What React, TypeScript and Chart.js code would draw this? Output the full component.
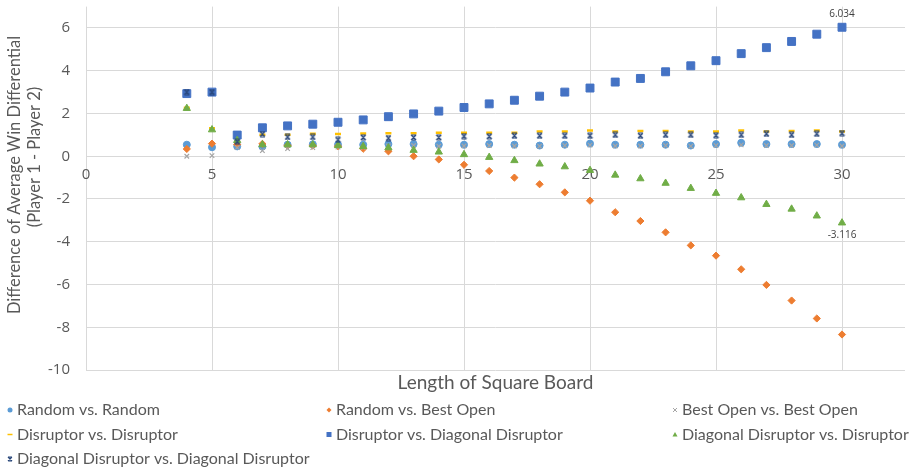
import React, { useEffect, useRef } from "react";
import { Chart, registerables } from "chart.js";

Chart.register(...registerables);

// ---------- data ----------
const boardSizes = [4, 5, 6, 7, 8, 9, 10, 11, 12, 13, 14, 15, 16, 17, 18, 19, 20, 21, 22, 23, 24, 25, 26, 27, 28, 29, 30];

const randomVsRandom = [0.54, 0.42, 0.46, 0.45, 0.54, 0.56, 0.54, 0.54, 0.57, 0.57, 0.54, 0.54, 0.57, 0.54, 0.5, 0.54, 0.59, 0.54, 0.54, 0.54, 0.5, 0.57, 0.63, 0.57, 0.57, 0.57, 0.54];
const randomVsBestOpen = [0.34, 0.59, 0.55, 0.58, 0.5, 0.5, 0.47, 0.35, 0.23, 0.0, -0.15, -0.4, -0.69, -1.0, -1.31, -1.69, -2.08, -2.62, -3.03, -3.56, -4.17, -4.65, -5.29, -6.02, -6.75, -7.59, -8.34];
const bestOpenVsBestOpen = [0.0, 0.03, 0.4, 0.26, 0.36, 0.4, 0.43, 0.4, 0.48, 0.5, 0.47, 0.48, 0.5, 0.48, 0.47, 0.5, 0.52, 0.48, 0.48, 0.5, 0.47, 0.5, 0.53, 0.5, 0.5, 0.52, 0.48];
const disruptorVsDisruptor = [2.27, 1.31, 0.98, 1.0, 1.0, 1.05, 1.04, 1.06, 1.08, 1.08, 1.1, 1.1, 1.1, 1.1, 1.16, 1.16, 1.2, 1.16, 1.18, 1.18, 1.16, 1.16, 1.2, 1.16, 1.18, 1.2, 1.16];
const disruptorVsDiagonalDisruptor = [2.93, 3.0, 0.99, 1.33, 1.42, 1.5, 1.59, 1.7, 1.85, 1.98, 2.11, 2.28, 2.45, 2.62, 2.81, 3.0, 3.19, 3.47, 3.64, 3.95, 4.23, 4.47, 4.8, 5.08, 5.37, 5.71, 6.034];
const diagonalDisruptorVsDisruptor = [2.24, 1.24, 0.74, 0.54, 0.54, 0.54, 0.5, 0.46, 0.4, 0.28, 0.2, 0.08, -0.05, -0.2, -0.36, -0.49, -0.66, -0.88, -1.05, -1.26, -1.5, -1.73, -1.94, -2.25, -2.47, -2.79, -3.116];
const diagonalDisruptorVsDiagonalDisruptor = [3.0, 3.0, 0.68, 1.04, 0.9, 0.9, 0.77, 0.88, 0.85, 0.88, 0.88, 0.94, 0.93, 0.96, 0.96, 0.96, 0.96, 1.0, 0.96, 1.0, 1.0, 0.98, 1.0, 1.05, 1.0, 1.05, 1.08];

const seriesNames = [
  "Random vs. Random",
  "Random vs. Best Open",
  "Best Open vs. Best Open",
  "Disruptor vs. Disruptor",
  "Disruptor vs. Diagonal Disruptor",
  "Diagonal Disruptor vs. Disruptor",
  "Diagonal Disruptor vs. Diagonal Disruptor",
];
const seriesValues = [
  randomVsRandom,
  randomVsBestOpen,
  bestOpenVsBestOpen,
  disruptorVsDisruptor,
  disruptorVsDiagonalDisruptor,
  diagonalDisruptorVsDisruptor,
  diagonalDisruptorVsDiagonalDisruptor,
];
const seriesColors = ["#5B9BD5", "#ED7D31", "#A5A5A5", "#FFC000", "#4472C4", "#70AD47", "#264478"];
const seriesMarkers = ["circle", "rectRot", "crossRot", "line", "rect", "triangle", "star"];

// series index whose last point gets a value label, and where
const labeledSeries = [
  { series: 4, place: "above" },
  { series: 5, place: "below" },
];

const xTitle = "Length of Square Board";
const yTitleLines = ["Difference of Average Win Differential", "(Player 1 - Player 2)"];
const xMin = 0;
const xMax = 32.5;
const xStep = 5;
const yMin = -10;
const yMax = 7;
const yStep = 2;

// ---------- styling ----------
const TEXT = "#595959";
const GRID = "#D9D9D9";
const TICK_FONT = "'Open Sans', sans-serif";
const LABEL_FONT = "Lato, sans-serif";

function makeStarCanvas(color: string, size: number) {
  const c = document.createElement("canvas");
  c.width = size;
  c.height = size;
  const ctx = c.getContext("2d")!;
  ctx.strokeStyle = color;
  ctx.lineWidth = 1.2;
  const p = 1;
  const s = size - 1;
  ctx.beginPath();
  ctx.moveTo(p, p);
  ctx.lineTo(s, s);
  ctx.moveTo(s, p);
  ctx.lineTo(p, s);
  ctx.moveTo(p, p);
  ctx.lineTo(s, p);
  ctx.moveTo(p, s);
  ctx.lineTo(s, s);
  ctx.stroke();
  return c;
}

function drawMarker(ctx: CanvasRenderingContext2D, style: string, x: number, y: number, r: number, color: string) {
  ctx.save();
  ctx.fillStyle = color;
  ctx.strokeStyle = color;
  ctx.lineWidth = 1;
  ctx.beginPath();
  if (style === "circle") {
    ctx.arc(x, y, r, 0, Math.PI * 2);
    ctx.fill();
  } else if (style === "rectRot") {
    ctx.moveTo(x, y - r);
    ctx.lineTo(x + r, y);
    ctx.lineTo(x, y + r);
    ctx.lineTo(x - r, y);
    ctx.closePath();
    ctx.fill();
  } else if (style === "crossRot") {
    const d = r * 0.8;
    ctx.moveTo(x - d, y - d);
    ctx.lineTo(x + d, y + d);
    ctx.moveTo(x + d, y - d);
    ctx.lineTo(x - d, y + d);
    ctx.stroke();
  } else if (style === "line") {
    ctx.lineWidth = 1.5;
    ctx.moveTo(x - r, y);
    ctx.lineTo(x + r, y);
    ctx.stroke();
  } else if (style === "rect") {
    ctx.fillRect(x - r, y - r, 2 * r, 2 * r);
  } else if (style === "triangle") {
    ctx.moveTo(x, y - r);
    ctx.lineTo(x + r, y + r * 0.8);
    ctx.lineTo(x - r, y + r * 0.8);
    ctx.closePath();
    ctx.fill();
  } else if (style === "star") {
    const d = r * 0.8;
    ctx.lineWidth = 1.2;
    ctx.moveTo(x - d, y - d);
    ctx.lineTo(x + d, y + d);
    ctx.moveTo(x + d, y - d);
    ctx.lineTo(x - d, y + d);
    ctx.moveTo(x - d, y - d);
    ctx.lineTo(x + d, y - d);
    ctx.moveTo(x - d, y + d);
    ctx.lineTo(x + d, y + d);
    ctx.stroke();
  }
  ctx.restore();
}

const extrasPlugin = {
  id: "extras",
  afterDraw(chart: any) {
    const ctx: CanvasRenderingContext2D = chart.ctx;
    const area = chart.chartArea;
    ctx.save();

    // value labels
    ctx.font = `10px ${TICK_FONT}`;
    ctx.fillStyle = "#404040";
    ctx.textAlign = "center";
    ctx.textBaseline = "middle";
    labeledSeries.forEach(({ series, place }) => {
      const meta = chart.getDatasetMeta(series);
      const idx = seriesValues[series].length - 1;
      const pt = meta.data[idx];
      const v = seriesValues[series][idx];
      const dy = place === "above" ? -13 : 12;
      ctx.fillText(v.toFixed(3), pt.x, pt.y + dy);
    });

    // x axis title
    ctx.font = `19px ${LABEL_FONT}`;
    ctx.fillStyle = TEXT;
    ctx.textAlign = "center";
    ctx.textBaseline = "middle";
    ctx.fillText(xTitle, (area.left + area.right) / 2, 383);

    // y axis title
    ctx.font = `16.5px ${LABEL_FONT}`;
    ctx.save();
    ctx.translate(15, 175);
    ctx.rotate(-Math.PI / 2);
    ctx.fillText(yTitleLines[0], 0, 0);
    ctx.restore();
    ctx.save();
    ctx.translate(35, 157);
    ctx.rotate(-Math.PI / 2);
    ctx.fillText(yTitleLines[1], 0, 0);
    ctx.restore();

    // legend
    const colX = [10, 329, 675];
    const rowY = [410, 434.5, 459];
    ctx.font = `16px ${LABEL_FONT}`;
    ctx.textAlign = "left";
    ctx.textBaseline = "middle";
    seriesNames.forEach((name, i) => {
      const cx = colX[i % 3];
      const cy = rowY[Math.floor(i / 3)];
      drawMarker(ctx, seriesMarkers[i], cx, cy, 2.5, seriesColors[i]);
      ctx.fillStyle = TEXT;
      ctx.fillText(name, cx + 7, cy);
    });
    ctx.restore();
  },
};

export default function App() {
  const canvasRef = useRef<HTMLCanvasElement | null>(null);

  useEffect(() => {
    const canvas = canvasRef.current;
    if (!canvas) return;
    const star = makeStarCanvas(seriesColors[6], 7);

    const radii = [3.5, 3.6, 3.2, 3, 5.6, 4.2, 3.5];
    const datasets = seriesNames.map((name, i) => ({
      label: name,
      data: boardSizes.map((x, j) => ({ x, y: seriesValues[i][j] })),
      showLine: false,
      pointStyle: i === 6 ? star : seriesMarkers[i],
      pointRadius: radii[i],
      pointHoverRadius: radii[i],
      pointBackgroundColor: seriesColors[i],
      pointBorderColor: seriesColors[i],
      pointBorderWidth: i === 3 ? 2.5 : i === 2 ? 1.2 : 1,
      backgroundColor: seriesColors[i],
      borderColor: seriesColors[i],
      xAxisID: "x",
      yAxisID: "y",
      order: 6 - i,
    }));

    const noPad = (s: any) => {
      s.paddingTop = 0;
      s.paddingBottom = 0;
      s.paddingLeft = 0;
      s.paddingRight = 0;
    };

    const chart = new Chart(canvas, {
      type: "scatter",
      data: { datasets },
      options: {
        animation: false,
        responsive: false,
        devicePixelRatio: 1,
        layout: { padding: { left: 0, right: 7, top: 4, bottom: 0 } },
        plugins: {
          legend: { display: false },
          tooltip: { enabled: false },
        },
        scales: {
          x: {
            type: "linear",
            position: "bottom",
            min: xMin,
            max: xMax,
            ticks: { display: false, stepSize: xStep, includeBounds: false },
            grid: { color: GRID, lineWidth: 1, drawTicks: false },
            border: { display: false },
            afterFit: (s: any) => {
              s.height = 102;
              noPad(s);
            },
          },
          x2: {
            type: "linear",
            axis: "x",
            position: { y: 0 },
            min: xMin,
            max: xMax,
            ticks: {
              stepSize: xStep,
              includeBounds: false,
              color: TEXT,
              font: { family: TICK_FONT, size: 15 },
              padding: 9,
              maxRotation: 0,
            },
            grid: { display: false, drawTicks: false },
            border: { display: false },
            afterFit: (s: any) => {
              noPad(s);
            },
          },
          y: {
            type: "linear",
            position: "left",
            min: yMin,
            max: yMax,
            ticks: {
              stepSize: yStep,
              includeBounds: false,
              color: TEXT,
              font: { family: TICK_FONT, size: 15 },
              padding: 16,
            },
            grid: { color: GRID, lineWidth: 1, drawTicks: false },
            border: { display: false },
            afterFit: (s: any) => {
              s.width = 86;
              noPad(s);
            },
          },
        },
      } as any,
      plugins: [extrasPlugin],
    });
    return () => chart.destroy();
  }, []);

  return (
    <div style={{ position: "fixed", left: 0, top: 0, width: 912, height: 472, background: "#fff" }}>
      <canvas ref={canvasRef} width={912} height={472} style={{ display: "block" }} />
    </div>
  );
}
